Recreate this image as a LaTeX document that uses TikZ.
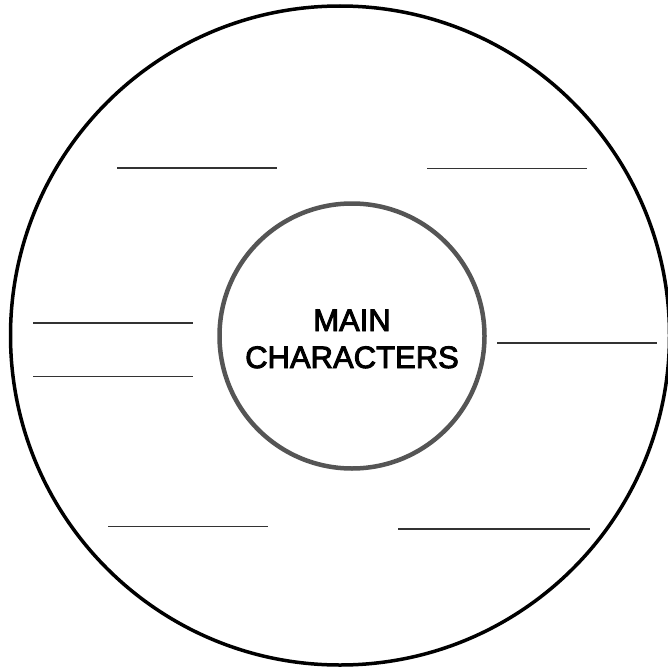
\documentclass[tikz,border=0pt]{standalone}
\usepackage{fontspec}
\setmainfont{Liberation Sans}
\newfontfamily\titlefont[FakeBold=3]{Liberation Sans}
\definecolor{ringgray}{HTML}{555555}
\definecolor{linegray}{HTML}{333333}
\begin{document}
\begin{tikzpicture}[x=1pt,y=-1pt,
  outerring/.style={draw=black,line width=3.5pt},
  innerring/.style={draw=ringgray,line width=4.5pt},
  blank/.style={draw=linegray,line width=1.8pt},
  title/.style={font=\titlefont\fontsize{31}{37}\selectfont,align=center,text=black}]
\useasboundingbox (0,0) rectangle (667,669);
\draw[outerring] (340,335.5) circle (329.5);
\node[circle,innerring,minimum size=265pt,inner sep=0pt] (inner) at (352,336) {};
\node[title] (label) at (352,339) {MAIN\\CHARACTERS};
\coordinate (a1) at (117,168); \coordinate (a2) at (277,168);
\coordinate (b1) at (427,168.5); \coordinate (b2) at (587,168.5);
\coordinate (c1) at (33,323); \coordinate (c2) at (193,323);
\coordinate (d1) at (33,376.5); \coordinate (d2) at (193,376.5);
\coordinate (e1) at (497,343); \coordinate (e2) at (657,343);
\coordinate (f1) at (108,526.5); \coordinate (f2) at (268,526.5);
\coordinate (g1) at (398,529); \coordinate (g2) at (590,529);
\draw[blank] (a1) -- (a2);
\draw[blank] (b1) -- (b2);
\draw[blank] (c1) -- (c2);
\draw[blank] (d1) -- (d2);
\draw[blank] (e1) -- (e2);
\draw[blank] (f1) -- (f2);
\draw[blank] (g1) -- (g2);
\end{tikzpicture}
\end{document}
